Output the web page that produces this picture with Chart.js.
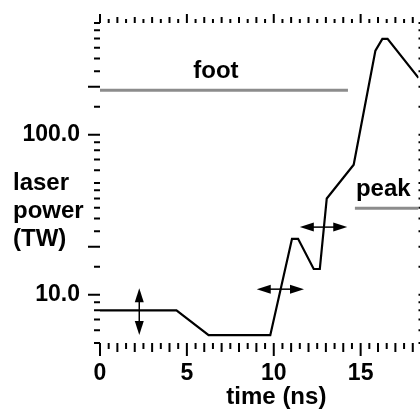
<!DOCTYPE html>
<html>
<head>
<meta charset="utf-8">
<script src="https://cdn.jsdelivr.net/npm/chart.js@4.4.1/dist/chart.umd.min.js"></script>
<style>
  html, body { margin: 0; padding: 0; background: #fff; }
</style>
</head>
<body>
<canvas id="c" width="420" height="409"></canvas>
<script>
// laser pulse shape (time in ns, power in TW)
const timeNs  = [0, 4.4, 6.25, 9.8, 11.05, 11.4, 12.3, 12.65, 13.05, 14.6, 15.85, 16.25, 16.55, 18.33];
const powerTW = [8, 8, 5.6, 5.6, 22.4, 22.4, 14.5, 14.5, 40, 65, 336, 398, 398, 227];

// gray reference levels
const footTime  = [0, 14.27];
const footPower = [190, 190];
const peakTime  = [14.67, 18.33];
const peakPower = [34.8, 34.8];

// double arrows: [x1, y1, x2, y2] in data units
const arrowFoot = [2.26, 11.0, 2.26, 5.62];
const arrowRise = [9.02, 10.85, 11.74, 10.85];
const arrowPeak = [11.5, 26.5, 14.23, 26.5];

// axis ticks
const xTicks = [0, 5, 10, 15];
const yTicks = [10, 100];
const yMinor = [1, 1.5, 2, 2.5, 3, 3.5, 4, 4.5, 5, 6, 7, 8, 9];

const FONT = "'Liberation Sans', Arial, Helvetica, sans-serif";

function pts(xs, ys) {
  return xs.map((x, i) => ({ x: x, y: ys[i] }));
}

function drawArrow(ctx, x1, y1, x2, y2) {
  const ang = Math.atan2(y2 - y1, x2 - x1);
  const c = Math.cos(ang), s = Math.sin(ang);
  const L = 14, W = 4.5;
  ctx.beginPath();
  ctx.moveTo(x1 + c * L * 0.8, y1 + s * L * 0.8);
  ctx.lineTo(x2 - c * L * 0.8, y2 - s * L * 0.8);
  ctx.stroke();
  [[x1, y1, 1], [x2, y2, -1]].forEach(([tx, ty, d]) => {
    const bx = tx + d * c * L, by = ty + d * s * L;
    ctx.beginPath();
    ctx.moveTo(tx, ty);
    ctx.lineTo(bx - s * W, by + c * W);
    ctx.lineTo(bx + s * W, by - c * W);
    ctx.closePath();
    ctx.fill();
  });
}

const decorPlugin = {
  id: 'decor',
  afterDraw(chart) {
    const { ctx, chartArea: a, scales: { x, y } } = chart;
    ctx.save();
    ctx.strokeStyle = '#000';
    ctx.fillStyle = '#000';

    // tick marks on all four sides
    ctx.lineWidth = 2;
    ctx.beginPath();
    for (let i = 0; i <= 36; i++) {
      const px = x.getPixelForValue(i / 2);
      if (px > a.right + 1) break;
      // 5 ns ticks longest, whole ns medium, half ns short
      const lb = i % 10 === 0 ? 13 : (i % 2 === 0 ? 9 : 6);
      const lt = i % 10 === 0 ? 9 : (i % 2 === 0 ? 6 : 4);
      ctx.moveTo(px, a.bottom);
      ctx.lineTo(px, a.bottom + lb);
      ctx.moveTo(px, a.top);
      ctx.lineTo(px, a.top - lt);
    }
    for (let d = 1; d <= 100; d *= 10) {
      yMinor.forEach(m => {
        const v = m * d;
        if (v < 5 || v > 500) return;
        const py = y.getPixelForValue(v);
        const long = m === 1 || m === 2;
        ctx.moveTo(a.left, py);
        ctx.lineTo(a.left - (long ? 12 : 6), py);
        ctx.moveTo(a.right, py);
        ctx.lineTo(a.right + 3, py);
      });
    }
    ctx.stroke();

    // double arrows
    ctx.lineWidth = 1.5;
    [arrowFoot, arrowRise, arrowPeak].forEach(ar => {
      drawArrow(ctx,
        x.getPixelForValue(ar[0]), y.getPixelForValue(ar[1]),
        x.getPixelForValue(ar[2]), y.getPixelForValue(ar[3]));
    });

    // labels
    ctx.font = 'bold 24px ' + FONT;
    ctx.textBaseline = 'alphabetic';
    ctx.textAlign = 'center';
    ctx.fillText('foot', x.getPixelForValue(6.67), y.getPixelForValue(footPower[0]) - 12);
    ctx.textAlign = 'left';
    ctx.fillText('peak', x.getPixelForValue(peakTime[0]) + 1, y.getPixelForValue(peakPower[0]) - 12);

    ctx.fillText('laser', 13, 190);
    ctx.fillText('power', 13, 218);
    ctx.fillText('(TW)', 13, 246);

    ctx.textAlign = 'center';
    ctx.fillText('time (ns)', x.getPixelForValue(10.15), 404);
    ctx.restore();
  }
};

new Chart(document.getElementById('c'), {
  type: 'line',
  data: {
    datasets: [
      {
        data: pts(timeNs, powerTW),
        borderColor: '#000',
        borderWidth: 2.2,
        pointRadius: 0,
        tension: 0
      },
      {
        data: pts(footTime, footPower),
        borderColor: '#8c8c8c',
        borderWidth: 3,
        pointRadius: 0
      },
      {
        data: pts(peakTime, peakPower),
        borderColor: '#8c8c8c',
        borderWidth: 3,
        pointRadius: 0
      }
    ]
  },
  options: {
    responsive: false,
    animation: false,
    devicePixelRatio: 1,
    layout: { padding: { top: 23, right: 1.5, left: 0, bottom: 0 } },
    plugins: {
      legend: { display: false },
      tooltip: { enabled: false }
    },
    scales: {
      x: {
        type: 'linear',
        min: 0,
        max: 18.33,
        grid: { display: false },
        border: { display: false },
        afterBuildTicks: s => { s.ticks = xTicks.map(v => ({ value: v })); },
        afterFit: s => { s.height = 66; s.paddingLeft = 0; s.paddingRight = 0; },
        ticks: {
          color: '#000',
          padding: 9,
          maxRotation: 0,
          font: { family: FONT, size: 23, weight: 'bold' },
          callback: v => String(v)
        }
      },
      y: {
        type: 'logarithmic',
        min: 5,
        max: 500,
        grid: { display: false },
        border: { display: false },
        afterBuildTicks: s => { s.ticks = yTicks.map(v => ({ value: v })); },
        afterFit: s => { s.width = 100; s.paddingTop = 0; s.paddingBottom = 0; },
        ticks: {
          color: '#000',
          padding: 12,
          font: { family: FONT, size: 23, weight: 'bold' },
          callback: v => Number(v).toFixed(1)
        }
      }
    }
  },
  plugins: [decorPlugin]
});
</script>
</body>
</html>
